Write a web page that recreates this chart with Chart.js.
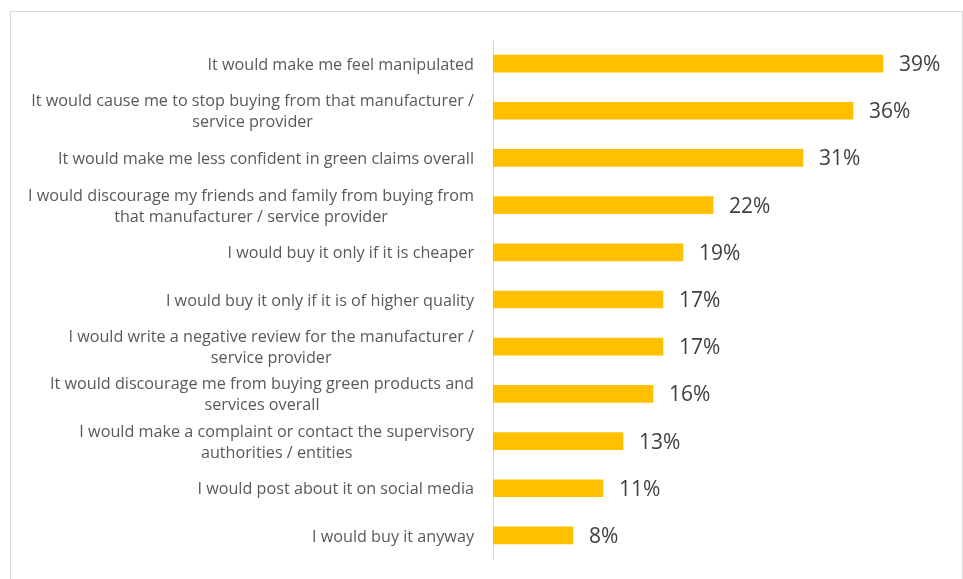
<!DOCTYPE html>
<html>
<head>
<meta charset="utf-8">
<script src="https://cdn.jsdelivr.net/npm/chart.js@4"></script>
<style>
  html, body { margin: 0; padding: 0; background: #fff; }
  #wrap { width: 963px; height: 579px; }
</style>
</head>
<body>
<div id="wrap"><canvas id="reactionChart" width="963" height="579"></canvas></div>
<script>
  // Categorías (cada elemento es una línea del texto)
  const categorias = [
    ["It would make me feel manipulated"],
    ["It would cause me to stop buying from that manufacturer /", "service provider"],
    ["It would make me less confident in green claims overall"],
    ["I would discourage my friends and family from buying from", "that manufacturer / service provider"],
    ["I would buy it only if it is cheaper"],
    ["I would buy it only if it is of higher quality"],
    ["I would write a negative review for the manufacturer /", "service provider"],
    ["It would discourage me from buying green products and", "services overall"],
    ["I would make a complaint or contact the supervisory", "authorities / entities"],
    ["I would post about it on social media"],
    ["I would buy it anyway"]
  ];
  const porcentajes = [39, 36, 31, 22, 19, 17, 17, 16, 13, 11, 8];

  const FUENTE = "'Open Sans', Lato, sans-serif";

  // Marco gris alrededor del gráfico
  const marco = {
    id: "marco",
    beforeDraw(chart) {
      const ctx = chart.ctx;
      ctx.save();
      ctx.strokeStyle = "#d9d9d9";
      ctx.lineWidth = 1;
      ctx.strokeRect(10.5, 11.5, 952, 600);
      ctx.restore();
    }
  };

  // Etiquetas de categoría: bloque alineado a la derecha, líneas centradas
  const etiquetas = {
    id: "etiquetas",
    afterDraw(chart) {
      const ctx = chart.ctx;
      const y = chart.scales.y;
      const derecha = chart.chartArea.left - 19;
      const alto = 21;
      ctx.save();
      ctx.font = "16.2px " + FUENTE;
      ctx.fillStyle = "#595959";
      ctx.textAlign = "center";
      ctx.textBaseline = "middle";
      categorias.forEach((lineas, i) => {
        const cy = y.getPixelForValue(i) + 1.5;
        const ancho = Math.max(...lineas.map(l => ctx.measureText(l).width));
        const cx = derecha - ancho / 2;
        const y0 = cy - (lineas.length - 1) * alto / 2;
        lineas.forEach((l, j) => ctx.fillText(l, cx, y0 + j * alto));
      });
      ctx.restore();
    }
  };

  // Valores al final de cada barra
  const valores = {
    id: "valores",
    afterDatasetsDraw(chart) {
      const ctx = chart.ctx;
      const meta = chart.getDatasetMeta(0);
      ctx.save();
      ctx.font = "21px " + FUENTE;
      ctx.fillStyle = "#404040";
      ctx.textAlign = "left";
      ctx.textBaseline = "middle";
      meta.data.forEach((bar, i) => {
        ctx.fillText(porcentajes[i] + "%", bar.x + 16, bar.y + 1.5);
      });
      ctx.restore();
    }
  };

  const ctx = document.getElementById("reactionChart").getContext("2d");
  new Chart(ctx, {
    type: "bar",
    data: {
      labels: categorias.map(c => c.join(" ")),
      datasets: [{
        data: porcentajes,
        backgroundColor: "#FFC000",
        barThickness: 17
      }]
    },
    options: {
      indexAxis: "y",
      responsive: false,
      animation: false,
      layout: { padding: { top: 40, bottom: 20, left: 0, right: 20 } },
      plugins: {
        legend: { display: false },
        tooltip: { enabled: false }
      },
      scales: {
        x: {
          display: false,
          min: 0,
          max: 45
        },
        y: {
          grid: { display: false },
          border: { display: true, color: "#d9d9d9", width: 1 },
          ticks: { display: false },
          afterFit(scale) { scale.width = 493; }
        }
      }
    },
    plugins: [marco, etiquetas, valores]
  });
</script>
</body>
</html>
